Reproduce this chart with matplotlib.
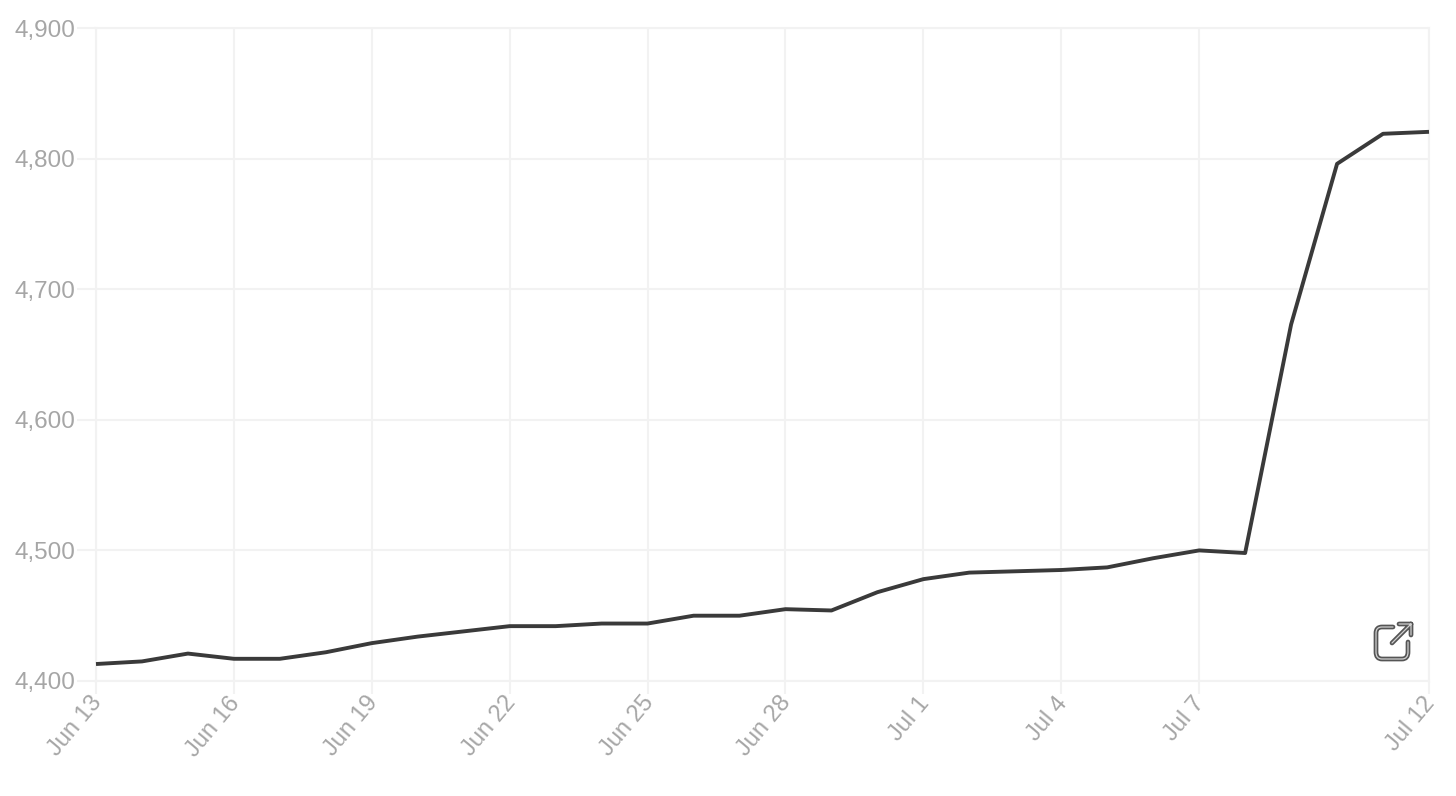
import matplotlib
matplotlib.use("Agg")
import matplotlib.pyplot as plt
from matplotlib.path import Path
from matplotlib.patches import PathPatch
from matplotlib.transforms import ScaledTranslation

days = ["Jun 13","Jun 14","Jun 15","Jun 16","Jun 17","Jun 18","Jun 19","Jun 20","Jun 21","Jun 22",
        "Jun 23","Jun 24","Jun 25","Jun 26","Jun 27","Jun 28","Jun 29","Jun 30","Jul 1","Jul 2",
        "Jul 3","Jul 4","Jul 5","Jul 6","Jul 7","Jul 8","Jul 9","Jul 10","Jul 11","Jul 12"]
values = [4413,4415,4421,4417,4417,4422,4429,4434,4438,4442,
          4442,4444,4444,4450,4450,4455,4454,4468,4478,4483,
          4484,4485,4487,4494,4500,4498,4673,4796,4819,4820.5]
tick_labels = ["Jun 13","Jun 16","Jun 19","Jun 22","Jun 25","Jun 28","Jul 1","Jul 4","Jul 7","Jul 12"]
y_ticks = [4400,4500,4600,4700,4800,4900]

W, H = 1456, 796
plt.rcParams['font.family'] = ['Liberation Sans', 'DejaVu Sans']
fig = plt.figure(figsize=(W/100, H/100), dpi=100, facecolor='white')
ax = fig.add_axes([96/W, 1-681/H, (1429-96)/W, (681-28)/H])
x = list(range(len(days)))
ax.set_xlim(0, len(days)-1)
ax.set_ylim(min(y_ticks), max(y_ticks))

grid = '#f2f2f2'
ax.grid(True, color=grid, lw=1.5)
ax.set_axisbelow(True)
for s in ax.spines.values():
    s.set_color(grid)
    s.set_linewidth(1.5)
ax.set_yticks(y_ticks)
ax.set_yticklabels([f"{v:,}" for v in y_ticks])
ax.set_xticks([days.index(t) for t in tick_labels])
ax.set_xticklabels(tick_labels, rotation=50, ha='right', rotation_mode='anchor')
ax.tick_params(axis='y', length=14, width=1.5, color=grid, labelcolor='#a6a6a6', labelsize=17.5, pad=1)
ax.tick_params(axis='x', length=9, width=1.5, color=grid, labelcolor='#a6a6a6', labelsize=17, pad=2)
shift = ScaledTranslation(-6.5/100, 4/100, fig.dpi_scale_trans)
for lab in ax.get_xticklabels():
    lab.set_transform(lab.get_transform() + shift)

ax.plot(x, values, color='#3a3a3a', lw=2.8, solid_joinstyle='round', solid_capstyle='butt',
        clip_on=False, zorder=3)

# external-link icon, in figure pixels
def px(a, b):
    return (a/W, 1-b/H)
box = Path([px(1393,627),px(1382,627),px(1376,627),px(1376,633),px(1376,652),px(1376,659),px(1382,659),
            px(1402,659),px(1408,659),px(1408,652),px(1408,642)],
           [Path.MOVETO,Path.LINETO,Path.CURVE3,Path.CURVE3,Path.LINETO,Path.CURVE3,Path.CURVE3,
            Path.LINETO,Path.CURVE3,Path.CURVE3,Path.LINETO])
arrow = Path([px(1392,643),px(1411,624),px(1399,624),px(1411,624),px(1411,635)],
             [Path.MOVETO,Path.LINETO,Path.MOVETO,Path.LINETO,Path.LINETO])
for p in (box, arrow):
    fig.add_artist(PathPatch(p, fill=False, edgecolor='#555555', lw=3.4, transform=fig.transFigure,
                             capstyle='round', joinstyle='round'))
    fig.add_artist(PathPatch(p, fill=False, edgecolor='#d0d0d0', lw=0.9, transform=fig.transFigure,
                             capstyle='round', joinstyle='round'))

fig.savefig('out.png', dpi=100, facecolor='white')
